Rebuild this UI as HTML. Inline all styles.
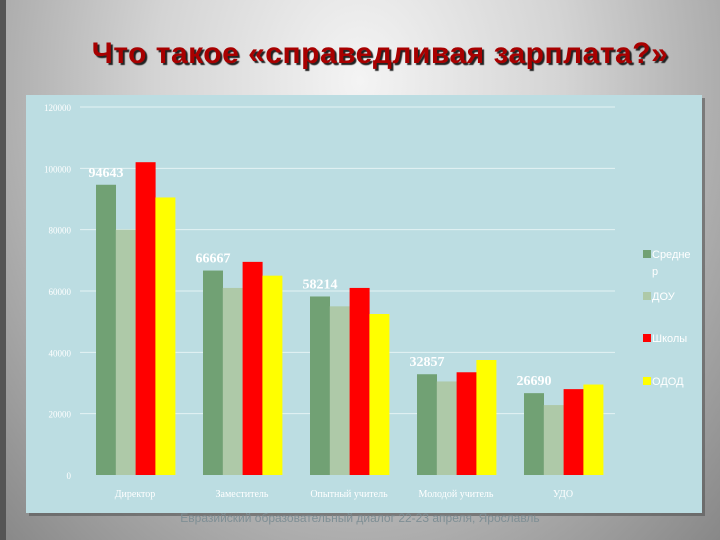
<!DOCTYPE html>
<html><head><meta charset="utf-8"><style>
body{margin:0;width:720px;height:540px;overflow:hidden;font-family:"Liberation Sans","DejaVu Sans",sans-serif}
#bg{position:absolute;left:0;top:0;width:720px;height:540px;background:radial-gradient(ellipse at 50% 15%,#f4f4f4 0%,#d4d4d4 40%,#888 100%)}
#strip{position:absolute;left:0;top:0;width:6px;height:540px;background:#555}
#title{position:absolute;left:0;width:760px;top:37px;text-align:center;font-size:30px;font-weight:bold;color:#a80000;text-shadow:2px 2px 1px #222;letter-spacing:0.5px}
</style></head><body>
<div id="bg"></div>
<div id="strip"></div>
<div id="title">Что такое «справедливая зарплата?»</div>
<svg width="720" height="540" style="position:absolute;left:0;top:0">
<rect x="29" y="98" width="676" height="418" fill="#555" opacity="0.6"/>
<rect x="26" y="95" width="676" height="418" fill="#bcdde2"/>
<g id="grid"></g><g id="bars"></g><g id="labels"></g><g id="legend"></g>
<text x="360" y="522" text-anchor="middle" font-size="12" fill="#7f8f95">Евразийский образовательный диалог 22-23 апреля, Ярославль</text>
</svg>
<script>
const categories=["Директор","Заместитель","Опытный учитель","Молодой учитель","УДО"];
const seriesNames=["Средние","ДОУ","Школы","ОДОД"];
const srednie=[94643,66667,58214,32857,26690];
const dou=[80000,61000,55000,30500,22800];
const shkoly=[102000,69500,61000,33500,28000];
const odod=[90500,65000,52500,37500,29500];
const yTicks=[0,20000,40000,60000,80000,100000,120000];
const valueLabels=["94643","66667","58214","32857","26690"];
const colors=["#71a174","#aec9a8","#ff0000","#ffff00"];
const NS="http://www.w3.org/2000/svg";
const y0=475,pxPer=368/120000;
const y=v=>y0-v*pxPer;
const gx=i=>96+i*107;
function mk(tag,attrs,parent,text){const e=document.createElementNS(NS,tag);for(const k in attrs)e.setAttribute(k,attrs[k]);if(text!==undefined)e.textContent=text;document.getElementById(parent).appendChild(e);return e;}
yTicks.forEach(t=>{
 if(t>0){const l=mk("line",{x1:80,x2:615,y1:y(t),y2:y(t),stroke:"#e4f2f4","stroke-width":1},"grid");
 
 }
 const tx=mk("text",{x:71,y:y(t)+4,"text-anchor":"end","font-size":9,fill:"#fff","font-family":"Liberation Serif, serif"},"grid",String(t));
 
 
});
const all=[srednie,dou,shkoly,odod];
categories.forEach((c,i)=>{
 all.forEach((s,j)=>{
  const r=mk("rect",{x:gx(i)+j*19.8,y:y(s[i]),width:20,height:y0-y(s[i]),fill:colors[j]},"bars");
  
  
 });
 const vl=mk("text",{x:gx(i)+10,y:y(srednie[i])-8,"text-anchor":"middle","font-size":14,"font-weight":"bold",fill:"#fff","font-family":"Liberation Serif, serif"},"labels",valueLabels[i]);
 
 
 const xl=mk("text",{x:gx(i)+39,y:497,"text-anchor":"middle","font-size":10,fill:"#fff","font-family":"Liberation Serif, serif"},"labels",c);
 
 
});
const legY=[258,300,342,385];
const legT=["Средне","ДОУ","Школы","ОДОД"];
seriesNames.forEach((n,j)=>{
 const r=mk("rect",{x:643,y:legY[j]-8,width:8,height:8,fill:colors[j]},"legend");
 
 
 const t=mk("text",{x:652,y:legY[j],"font-size":11,fill:"#fff"},"legend",legT[j]);
 
 
});
const t2=mk("text",{x:652,y:275,"font-size":11,fill:"#fff"},"legend","р");


</script>
</body></html>
